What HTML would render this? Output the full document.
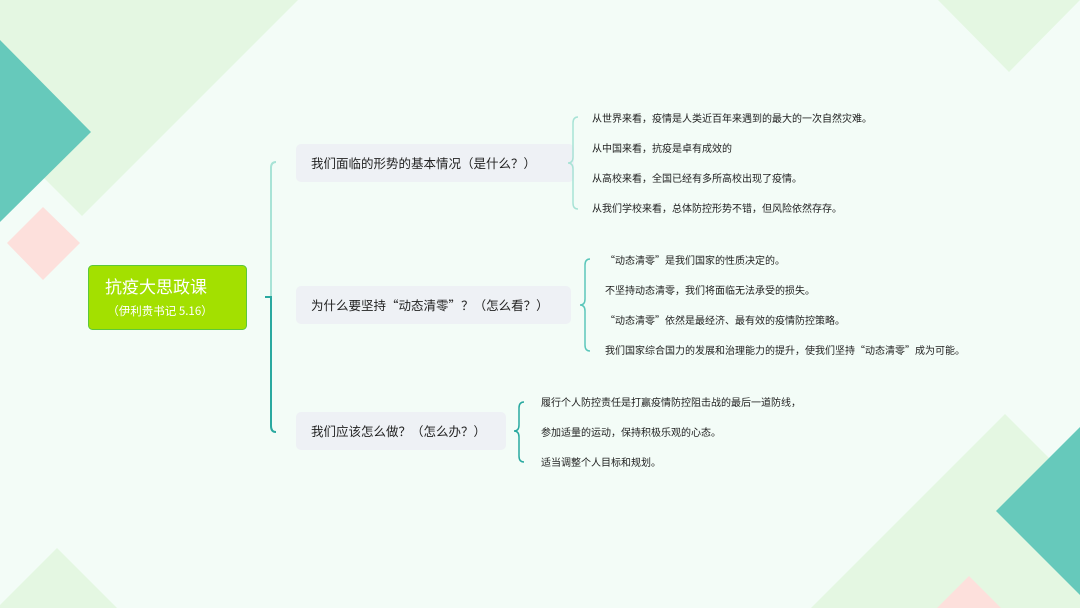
<!DOCTYPE html>
<html><head><meta charset="utf-8"><style>
html,body{margin:0;padding:0;background:#f3fcf7;}
svg{display:block;font-family:"Liberation Sans","Noto Sans CJK SC",sans-serif;}
.q{font-family:"Noto Sans CJK SC",sans-serif;}
</style></head><body>
<svg width="1080" height="608" viewBox="0 0 1080 608" xmlns="http://www.w3.org/2000/svg">
<rect width="1080" height="608" fill="#f3fcf7"/>
<polygon points="0,0 298,0 82,216 0,134" fill="#e4f7e2"/>
<polygon points="0,40 91,132 0,222" fill="#66c9bb"/>
<polygon points="43,207 80,243 43,280 7,243" fill="#fde0dc"/>
<polygon points="938,0 1080,0 1009,72" fill="#e4f7e2"/>
<polygon points="-3,608 57,548 117,608" fill="#e4f7e2"/>
<polygon points="1005,414 1080,489 1080,608 811,608" fill="#e4f7e2"/>
<polygon points="1080,427 996,511 1080,595" fill="#66c9bb"/>
<polygon points="969,576 937,608 1001,608" fill="#fde0dc"/>

<path d="M276,162 Q271,162 271,168 L271,297" fill="none" stroke="#a8e3d6" stroke-width="2"/>
<path d="M265,297 L271,297 L271,426 Q271,432 276,432" fill="none" stroke="#2aa9a0" stroke-width="2"/>

<rect x="88.5" y="265.5" width="158" height="64" rx="4" fill="#a3e000" stroke="#5cc83a" stroke-width="1"/>
<text x="105" y="293" font-size="17" fill="#fff">抗疫大思政课</text>
<text x="160" y="315" font-size="11.5" fill="#fff" text-anchor="middle" class="q">（伊利贵书记 5.16）</text>

<rect x="296" y="144" width="278" height="38" rx="5" fill="#eef1f5"/>
<text x="311" y="168" font-size="12.5" fill="#222">我们面临的形势的基本情况（是什么？）</text>
<rect x="296" y="286" width="275" height="38" rx="5" fill="#eef1f5"/>
<text x="311" y="310" font-size="12.5" fill="#222">为什么要坚持<tspan class="q">“</tspan>动态清零<tspan class="q">”</tspan>？（怎么看？）</text>
<rect x="296" y="412" width="210" height="38" rx="5" fill="#eef1f5"/>
<text x="311" y="436" font-size="12.5" fill="#222">我们应该怎么做？（怎么办？）</text>

<path d="M578,117 Q573,117 573,123 L573,157 Q573,163 568,163 Q573,163 573,169 L573,203 Q573,209 578,209" fill="none" stroke="#a8e3d6" stroke-width="1.5"/>
<path d="M590,259 Q585,259 585,265 L585,299 Q585,305 580,305 Q585,305 585,311 L585,345 Q585,351 590,351" fill="none" stroke="#5cc7bb" stroke-width="1.5"/>
<path d="M524,402 Q519,402 519,408 L519,425 Q519,431 514,431 Q519,431 519,437 L519,456 Q519,462 524,462" fill="none" stroke="#2aa9a0" stroke-width="1.5"/>

<g font-size="10" fill="#222">
<text x="592" y="122">从世界来看，疫情是人类近百年来遇到的最大的一次自然灾难。</text>
<text x="592" y="152">从中国来看，抗疫是卓有成效的</text>
<text x="592" y="182">从高校来看，全国已经有多所高校出现了疫情。</text>
<text x="592" y="212">从我们学校来看，总体防控形势不错，但风险依然存存。</text>
<text x="605" y="264"><tspan class="q">“</tspan>动态清零<tspan class="q">”</tspan>是我们国家的性质决定的。</text>
<text x="605" y="294">不坚持动态清零，我们将面临无法承受的损失。</text>
<text x="605" y="324"><tspan class="q">“</tspan>动态清零<tspan class="q">”</tspan>依然是最经济、最有效的疫情防控策略。</text>
<text x="605" y="354">我们国家综合国力的发展和治理能力的提升，使我们坚持<tspan class="q">“</tspan>动态清零<tspan class="q">”</tspan>成为可能。</text>
<text x="541" y="406">履行个人防控责任是打赢疫情防控阻击战的最后一道防线，</text>
<text x="541" y="436">参加适量的运动，保持积极乐观的心态。</text>
<text x="541" y="466">适当调整个人目标和规划。</text>
</g>
</svg>
</body></html>
